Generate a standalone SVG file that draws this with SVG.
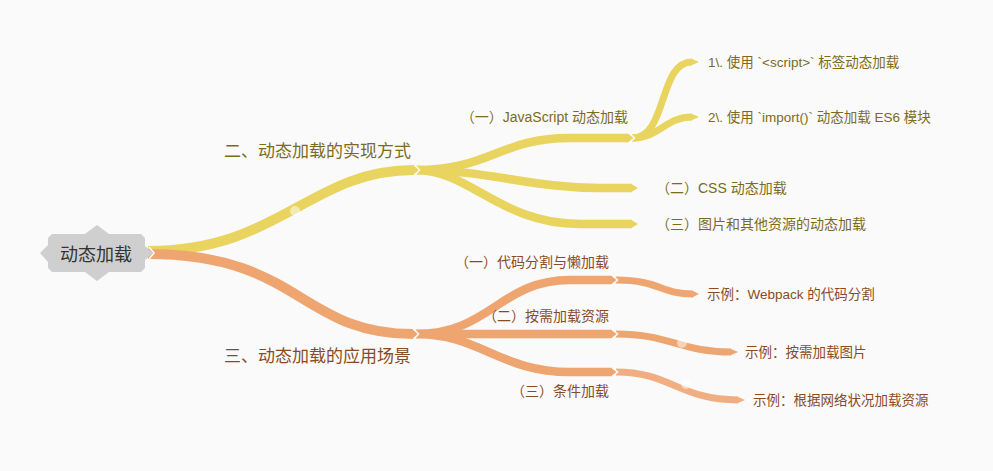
<svg xmlns="http://www.w3.org/2000/svg" width="993" height="471" viewBox="0 0 993 471">
<style>
text{font-family:"Liberation Sans","Noto Sans CJK SC",sans-serif;}
.y{stroke:#e8d45e;fill:none;stroke-linecap:butt;}
.o{stroke:#eea570;fill:none;stroke-linecap:butt;}
.o3{stroke:#f1ae82;fill:none;stroke-linecap:butt;}
.yf{fill:#e8d45e;}
.of{fill:#eea570;}
.o3f{fill:#f1ae82;}
.n{fill:none;stroke:#fafafa;stroke-width:1.6;}
.dot{fill:#ffffff;fill-opacity:0.5;}
.ty{fill:#7b6b1d;}
.to{fill:#8a4b24;}
.l1{font-size:17px;}
.l2{font-size:14px;}
.l3{font-size:13.5px;}
</style>
<rect width="993" height="471" fill="#fafafa"/>
<g id="connectors">
  <!-- yellow main -->
  <path class="y" stroke-width="10" d="M148,251 C280,251 310,170 414,170"/>
  <polygon class="yf" points="413,165 419,170 413,175"/>
  <!-- yellow level 2 -->
  <path class="y" stroke-width="8.5" d="M416,170 C490,170 500,138 570,138 L629,138"/>
  <polygon class="yf" points="628,133.75 634,138 628,142.25"/>
  <path class="y" stroke-width="8.5" d="M416,170 C490,170 530,188 600,188 L632,188"/>
  <polygon class="yf" points="631,183.75 638,188 631,192.25"/>
  <path class="y" stroke-width="8.5" d="M416,170 C470,170 500,224 580,224 L632,224"/>
  <polygon class="yf" points="631,219.75 638,224 631,228.25"/>
  <!-- yellow level 3 -->
  <path class="y" stroke-width="7" d="M632,138 C668,138 658,62 692,62"/>
  <polygon class="yf" points="691,58.5 699,62 691,65.5"/>
  <path class="y" stroke-width="7" d="M632,138 C660,138 665,117 692,117"/>
  <polygon class="yf" points="691,113.5 699,117 691,120.5"/>
  <!-- orange main -->
  <path class="o" stroke-width="10" d="M148,254 C300,254 300,334 413,334"/>
  <polygon class="of" points="412,329 418,334 412,339"/>
  <!-- orange level 2 -->
  <path class="o" stroke-width="8.5" d="M416,334 C490,334 500,280 570,280 L612,280"/>
  <polygon class="of" points="611,275.75 617,280 611,284.25"/>
  <path class="o" stroke-width="8.5" d="M416,334 L612,334"/>
  <polygon class="of" points="611,329.75 617,334 611,338.25"/>
  <path class="o" stroke-width="8.5" d="M416,334 C480,334 500,372 570,372 L612,372"/>
  <polygon class="of" points="611,367.75 617,372 611,376.25"/>
  <!-- orange level 3 -->
  <path class="o" stroke-width="7" d="M616,280 C660,280 660,294 693,294"/>
  <polygon class="of" points="692,290.5 699,294 692,297.5"/>
  <path class="o" stroke-width="7" d="M616,334 C670,334 680,352 731,352"/>
  <polygon class="of" points="730,348.5 738,352 730,355.5"/>
  <path class="o3" stroke-width="7" d="M616,372 C670,372 680,400 738,400"/>
  <polygon class="o3f" points="737,396.5 745,400 737,403.5"/>
  <!-- notches -->
  <polyline class="n" points="149,247 154,253 149,259"/>
  <polyline class="n" points="414,164 419.5,170 414,176"/>
  <polyline class="n" points="629,133 634.5,138 629,143"/>
  <polyline class="n" points="413,328 418.5,334 413,340"/>
  <polyline class="n" points="612,275 617.5,280 612,285"/>
  <polyline class="n" points="612,329 617.5,334 612,339"/>
  <polyline class="n" points="612,367 617.5,372 612,377"/>
  <!-- dots -->
  <circle class="dot" cx="295" cy="211" r="5"/>
  <circle class="dot" cx="682" cy="343" r="5"/>
  <circle class="dot" cx="686" cy="384" r="5"/>
</g>
<g id="root">
  <polygon fill="#cfcfcf" points="52,234 85,234 97,225 109,234 141,234 145,238 145,246 153,253 145,260 145,268 141,272 109,272 97,281 85,272 52,272 48,268 48,262 40,253 48,245 48,238"/>
  <text x="96" y="260.5" font-size="18" fill="#333333" text-anchor="middle">动态加载</text>
</g>
<g id="n-impl"><text class="ty l1" x="224" y="157">二、动态加载的实现方式</text></g>
<g id="n-js"><text class="ty l2" x="628" y="122" text-anchor="end">（一）JavaScript 动态加载</text></g>
<g id="n-js1"><text class="ty l3" x="708" y="66.5">1\. 使用 `&lt;script&gt;` 标签动态加载</text></g>
<g id="n-js2"><text class="ty l3" x="708" y="121.5">2\. 使用 `import()` 动态加载 ES6 模块</text></g>
<g id="n-css"><text class="ty l2" x="656" y="193">（二）CSS 动态加载</text></g>
<g id="n-img"><text class="ty l2" x="656" y="229">（三）图片和其他资源的动态加载</text></g>
<g id="n-app"><text class="to l1" x="224" y="362">三、动态加载的应用场景</text></g>
<g id="n-split"><text class="to l2" x="609" y="267" text-anchor="end">（一）代码分割与懒加载</text></g>
<g id="n-split1"><text class="to l3" x="707" y="298.5">示例：Webpack 的代码分割</text></g>
<g id="n-ondemand"><text class="to l2" x="609" y="321" text-anchor="end">（二）按需加载资源</text></g>
<g id="n-ondemand1"><text class="to l3" x="745" y="356.5">示例：按需加载图片</text></g>
<g id="n-cond"><text class="to l2" x="609" y="396" text-anchor="end">（三）条件加载</text></g>
<g id="n-cond1"><text class="to l3" x="753" y="404.5">示例：根据网络状况加载资源</text></g>
</svg>
